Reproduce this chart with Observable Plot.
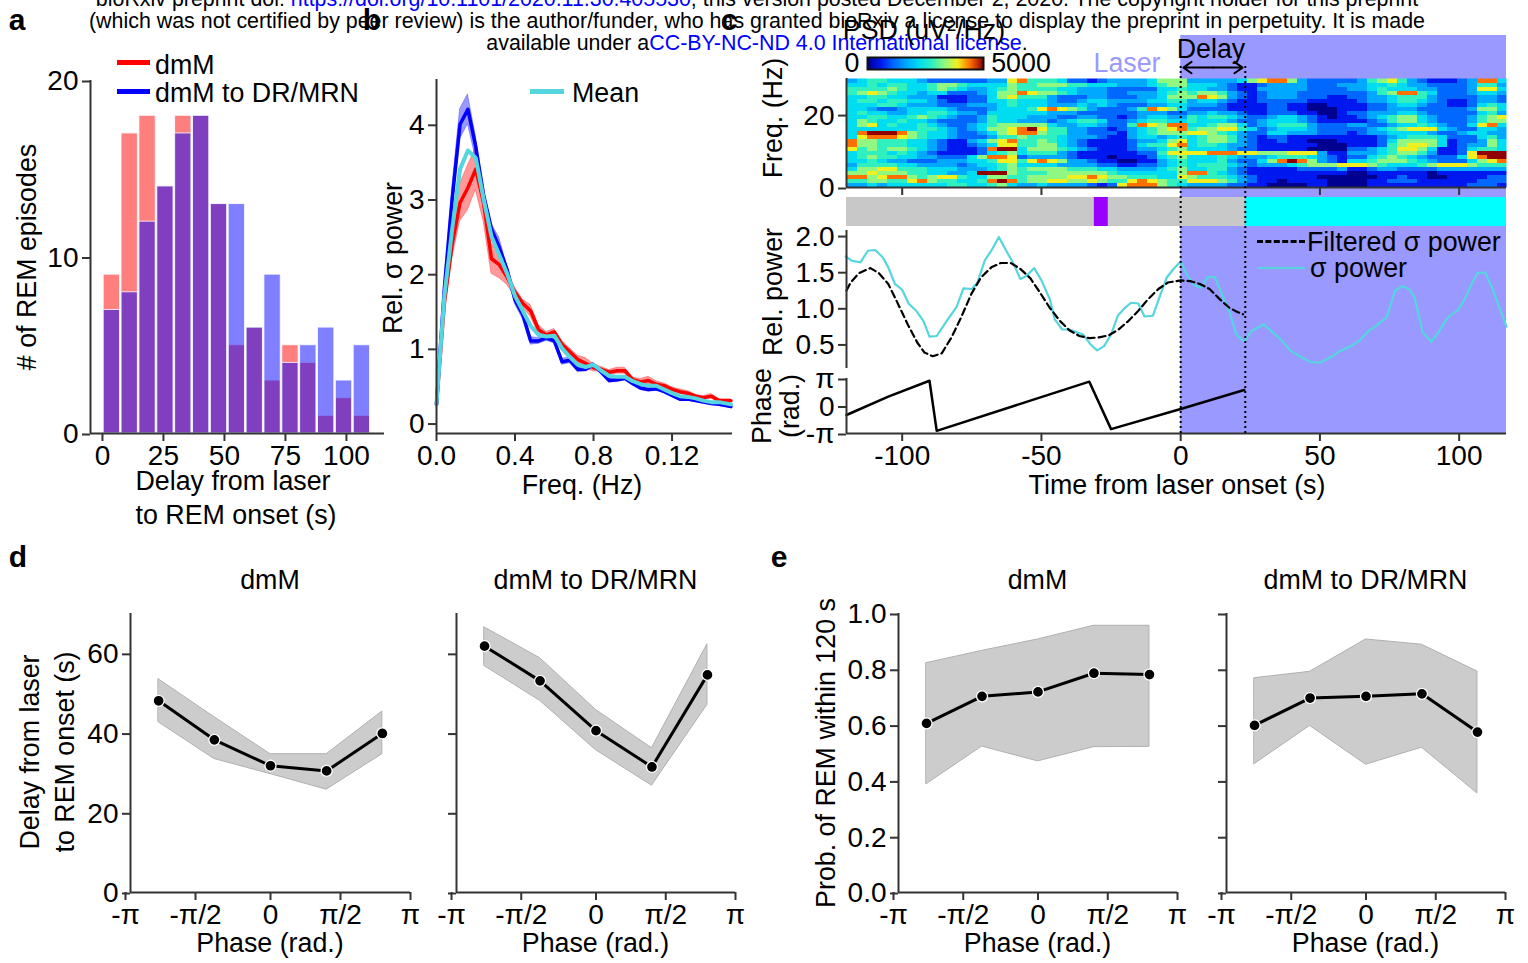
<!DOCTYPE html>
<html><head><meta charset="utf-8">
<script src="https://cdn.jsdelivr.net/npm/d3@7"></script>
<script src="https://cdn.jsdelivr.net/npm/@observablehq/plot@0.6"></script>
<style>
html,body{margin:0;background:#fff;}
#stage{position:relative;width:1528px;height:963px;overflow:hidden;font-family:"Liberation Sans",Arial,sans-serif;color:#000;}
#stage svg{position:absolute;overflow:visible;background:transparent;}
.t{position:absolute;white-space:nowrap;line-height:1;}
.k{position:absolute;}
a{color:#0000ff;text-decoration:none;}
</style></head><body><div id="stage"></div>
<script>
// ---------- panel a ----------
const binLeft=[0.5,7.82,15.14,22.46,29.78,37.1,44.42,51.74,59.06,66.38,73.7,81.02,88.34,95.66,102.98];
const binWidth=6.7;
const countsDmm=[9,17,18,14,18,18,13,5,6,3,5,4,1,2,1];
const countsDr=[7,8,12,14,17,18,13,13,6,9,4,5,6,3,5];
// ---------- panel b ----------
const freq=[0,.04,.08,.12,.16,.2,.24,.28,.32,.36,.4,.44,.48,.52,.56,.6,.64,.68,.72,.76,.8,.84,.88,.92,.96,1,1.04,1.08,1.12,1.16,1.2,1.24,1.28,1.32,1.36,1.4,1.44,1.5];
const specMean=[.25,1.7,2.6,3.4,3.65,3.55,3.0,2.5,2.25,2.0,1.7,1.5,1.3,1.18,1.16,1.17,1.0,.88,.78,.75,.78,.7,.63,.62,.62,.56,.52,.5,.5,.45,.4,.36,.35,.33,.3,.28,.28,.25];
const specDr=[.25,1.8,3.0,4.0,4.2,3.7,3.05,2.6,2.35,2.05,1.65,1.45,1.1,1.1,1.14,1.1,.82,.84,.72,.72,.78,.68,.57,.58,.6,.53,.47,.45,.46,.42,.37,.32,.32,.3,.28,.26,.25,.22];
const specDmm=[.25,1.6,2.4,2.95,3.15,3.4,2.95,2.2,2.12,1.95,1.75,1.6,1.5,1.25,1.18,1.22,1.05,.95,.85,.8,.74,.72,.68,.7,.7,.58,.55,.57,.52,.5,.45,.42,.4,.36,.34,.36,.3,.3];
const semDmm=[.02,.1,.2,.25,.3,.28,.25,.2,.18,.1,.06,.05,.08,.06,.04,.04,.05,.05,.05,.07,.05,.03,.03,.04,.04,.03,.04,.05,.04,.03,.03,.03,.03,.02,.02,.03,.02,.02];
const semDr=[.02,.1,.15,.2,.2,.15,.08,.07,.13,.05,.06,.06,.05,.04,.04,.03,.04,.04,.04,.03,.03,.03,.03,.03,.03,.03,.03,.03,.03,.02,.02,.02,.02,.02,.02,.02,.02,.02];
// ---------- panel c ----------
const psdLevel=555.5; // one digit in the rows below = this many uV^2/Hz
const psdA=["34554443222222337","44545544566544446","55556544565433456","56765443442223466","44554433311122467","45545544321122445","44455433322233345","44322344443222344","45443344554332444","44554456543223544","46544544322223544","46745445432234566","44444445543234667","48999865443223467","47888765443222355","86655544321134678","86655544321123477","75656654321112899","45554543211112456","45655443322246887","44543322233344577","35555443333234456","46677555444333456","66766655443349996","88678865677544665","55665578655445898","33434444445544564"];
const psdB=["85554221233334666","55666554443334566","55554433322222445","87665433322333456","55532223322233466","44432234433334455","44433343432223344","45787653222358764","44433322222233322","43332233221234433","33323455422345544","66643344322587688","89755332212345678","88655332221345666","65554333211344345","55654321111233467","55664321111245578","46665432111233456","45553211111122577","23333211101112456","57876332110011345","44443333221122345","56666555443333456","55566666654444446","56666778766555447","56677667655787655","33433332127888654"];
const psdC=["3333346788632222","4443211233332223","4433211333332222","5665321233322222","6876321233322211","3443211222221111","3332111122110011","2222111122110001","3343321122211001","5455432234432101","5444322344432111","4456642345553222","5667754234443222","7765432244333222","4566532122111111","4566532112110001","4554332111111000","4444322111110000","7788877666777311","4445433345554321","4445322468986321","4555432333456667","4455321111122223","8854321111111111","6555432111111000","7776532110111100","3333221100001100"];
const psdD=["2356753211123884","3344543322223553","3345444332223774","2235688542223443","2233455532222332","1233455432112332","1122344322112454","1122333222223664","2233344322222453","1234566432223567","1123566432223566","3322344543224784","2234567774322443","1233444432234433","1112345554222453","1112466664122364","1112567764123364","2234577641124554","3334566531127999","2245654322247899","4456665432224678","7765444567776555","1123322223333333","0011111101111111","0001121100111122","0011222111111222","0011111111112221"];
const jetStops=["#000090","#0018f0","#0068ff","#00a8ff","#00dcf0","#30f0c0","#90f880","#f0f020","#ff7000","#900000"];

const sigmaT=[-120.3,-118,-115,-112.3,-109.7,-107,-105,-102.6,-100,-97.7,-95,-92.4,-90.2,-87.6,-84,-80.5,-78,-75,-73,-70.3,-68,-65.3,-62.5,-60,-57.6,-55.4,-52.6,-50,-47,-45.2,-42.6,-40,-37.3,-35,-32.5,-30,-27.5,-25,-22.6,-20,-17.8,-15.2,-13,-10,-7.2,-5,-2.5,0,2.5,5,7.4,9.5,12.2,14.8,17.5,20,22.8,25.4,29.8,32.5,36,39.6,42.7,46.6,49.8,54.6,57,60.7,64.3,67.5,70.5,74,77,79.6,82,84,86.9,90,92.5,96,99.6,102,104.5,106.6,109.3,112,117];
const sigmaV=[1.71,1.65,1.63,1.79,1.80,1.70,1.56,1.33,1.25,1.06,.96,.82,.60,.61,.82,1.01,1.27,1.26,1.35,1.66,1.79,1.98,1.78,1.61,1.40,1.44,1.55,1.38,1.12,.84,.70,.70,.66,.63,.50,.41,.47,.63,.89,1.0,1.07,1.06,.88,.89,1.19,1.42,1.54,1.64,1.44,1.31,1.28,1.42,1.43,1.19,.94,.63,.53,.68,.77,.68,.56,.40,.33,.25,.24,.33,.40,.46,.55,.68,.76,.87,1.24,1.30,1.26,1.14,.66,.53,.66,.87,.97,1.12,1.33,1.48,1.49,1.26,.74];
const filtT=[-120,-118.5,-115.5,-111.4,-108.4,-105,-101.7,-98,-94.6,-92,-89,-85.8,-82.3,-78.8,-75.2,-71.7,-68,-64.6,-61,-57.6,-54,-50.5,-47,-43.4,-40,-36.4,-32.8,-29.3,-25.8,-22.3,-18.7,-15.2,-11.7,-8,-4.6,0,3.4,6.9,10.4,14,17.5,20,22.4];
const filtV=[1.24,1.35,1.48,1.55,1.48,1.33,1.07,.77,.52,.38,.33,.37,.59,.87,1.19,1.42,1.56,1.62,1.62,1.54,1.41,1.21,1.0,.82,.69,.61,.58,.59,.62,.70,.82,.96,1.12,1.26,1.35,1.38,1.37,1.33,1.26,1.12,1.0,.95,.91];
const phaseT=[-120,-105,-90.2,-87.6,-32.8,-25,0,22.8];
const phaseV=[-1.03,1.07,2.88,-2.84,2.78,-2.64,-.34,1.83];
const delayEnd=23.2;
const xRangeC=[-120,117];
const stateStrip=[{a:-120,b:23.2,c:"#c8c8c8"},{a:-31,b:-26,c:"#9900ff"},{a:23.2,b:117,c:"#00ffff"}];
// ---------- panels d, e ----------
const phaseBins=[-2.51,-1.26,0,1.26,2.51];
const phaseTicksNeg=[-Math.PI,-Math.PI/2];
const phaseTicksPos=[0,Math.PI/2,Math.PI];
const phaseLabelsNeg=["-π","-π/2"];
const phaseLabelsPos=["0","π/2","π"];
const dDmm={m:[48.1,38.3,31.8,30.5,39.9],u:[53.5,44,34.7,34.7,45.4],l:[42.7,33.5,29.7,25.8,34.7]};
const dDr={m:[61.8,53.1,40.6,31.5,54.6],u:[66.5,58.8,45.8,36.2,62.3],l:[56.8,48.1,35.7,26.8,47.1]};
const eDmm={m:[.606,.703,.719,.786,.781],u:[.822,.866,.907,.956,.956],l:[.388,.523,.470,.521,.522]};
const eDr={m:[.599,.697,.703,.712,.575],u:[.768,.791,.907,.888,.792],l:[.460,.597,.458,.519,.355]};

// ---------- helpers ----------
const stage=document.getElementById("stage");
const FS=26.8, TICK=28, AX="#333", RED="#ff0000", BLUE="#0000ff", CY="#55d5dd";
function txt(s,x,y,o={}){
  const e=document.createElement("div");e.className="t";
  if(o.html)e.innerHTML=s;else e.textContent=s;
  const a=o.anchor==="start"?"0":o.anchor==="end"?"-100%":"-50%";
  e.style.cssText+=`left:${x}px;top:${y}px;font-size:${o.size||FS}px;font-weight:${o.weight||400};color:${o.color||"#000"};transform:translate(${a},-50%) rotate(${o.rotate||0}deg);`;
  stage.appendChild(e);
}
function key(x1,x2,y,color,style="solid",w=5){
  const e=document.createElement("div");e.className="k";
  e.style.cssText=`left:${x1}px;top:${y-Math.ceil(w/2)}px;width:${x2-x1}px;height:0;border-top:${w}px ${style} ${color};`;
  stage.appendChild(e);
}
function panel(f,opts){
  const ml=f.ml??110,mr=f.mr??8,mt=f.mt??20,mb=f.mb??70;
  const p=Plot.plot({width:f.r-f.l+ml+mr,height:f.b-f.t+mt+mb,marginLeft:ml,marginRight:mr,marginTop:mt,marginBottom:mb,
    style:{fontFamily:'"Liberation Sans",Arial,sans-serif',fontSize:TICK+"px",color:"#000",background:"transparent",overflow:"visible",position:"absolute",left:(f.l-ml)+"px",top:(f.t-mt)+"px"},
    ...opts});
  stage.appendChild(p);return p;
}
const axX=(ticks,fmt,o={})=>Plot.axisX({ticks,tickFormat:fmt,tickSize:8,tickPadding:4,stroke:AX,strokeWidth:2,label:null,fontSize:TICK,...o});
const axY=(ticks,fmt,o={})=>Plot.axisY({ticks,tickFormat:fmt,tickSize:8,tickPadding:4,stroke:AX,strokeWidth:2,label:null,fontSize:TICK,textStroke:"none",...o});
const spineL=v=>Plot.ruleX([v],{stroke:AX,strokeWidth:2});
const spineB=v=>Plot.ruleY([v],{stroke:AX,strokeWidth:2});

// ---------- header ----------
txt(`bioRxiv preprint doi: <a>https://doi.org/10.1101/2020.11.30.405530</a>; this version posted December 2, 2020. The copyright holder for this preprint`,757,0,{size:21.4,html:true});
txt(`(which was not certified by peer review) is the author/funder, who has granted bioRxiv a license to display the preprint in perpetuity. It is made`,757,22,{size:21.4});
txt(`available under a<a>CC-BY-NC-ND 4.0 International license</a>.`,757,44,{size:21.4,html:true});

// ---------- a ----------
const tableA=binLeft.map((x,i)=>({x1:x,x2:x+binWidth,r:countsDmm[i],b:countsDr[i]}));
panel({l:90,r:384,t:80,b:433},{
  x:{domain:[-4.9,115.6]},y:{domain:[0,20]},
  marks:[
    Plot.rectY(tableA,{x1:"x1",x2:"x2",y:"r",fill:RED,fillOpacity:.5,stroke:"#fff",strokeWidth:1,strokeOpacity:.8}),
    Plot.rectY(tableA,{x1:"x1",x2:"x2",y:"b",fill:BLUE,fillOpacity:.5,stroke:"#fff",strokeWidth:1,strokeOpacity:.8}),
    spineL(-4.9),spineB(0),
    axX([0,25,50,75,100],d=>String(d)),axY([0,10,20],d=>String(d),{dy:1})
  ]});
txt("# of REM episodes",27,257,{rotate:-90});
txt("Delay from laser",233,481);txt("to REM onset (s)",236,515);
key(117,150,63,RED);key(117,150,92,BLUE);
txt("dmM",155,65,{anchor:"start"});txt("dmM to DR/MRN",155,93,{anchor:"start"});
txt("a",17,20,{size:30,weight:700});

// ---------- b ----------
const tableB=freq.map((f,i)=>({f,mean:specMean[i],dr:specDr[i],dmm:specDmm[i],r1:specDmm[i]-semDmm[i],r2:specDmm[i]+semDmm[i],b1:specDr[i]-semDr[i],b2:specDr[i]+semDr[i]}));
panel({l:436,r:732,t:79,b:433,ml:60},{
  x:{domain:[0,1.508]},y:{domain:[-.14,4.6]},
  marks:[
    Plot.areaY(tableB,{x:"f",y1:"r1",y2:"r2",fill:RED,fillOpacity:.4,stroke:RED,strokeOpacity:.3}),
    Plot.areaY(tableB,{x:"f",y1:"b1",y2:"b2",fill:BLUE,fillOpacity:.4,stroke:BLUE,strokeOpacity:.3}),
    Plot.line(tableB,{x:"f",y:"dmm",stroke:RED,strokeWidth:3.5}),
    Plot.line(tableB,{x:"f",y:"dr",stroke:BLUE,strokeWidth:3.5}),
    Plot.line(tableB,{x:"f",y:"mean",stroke:CY,strokeWidth:4}),
    spineL(0),spineB(-.14),
    axX([0,.4,.8,1.2],(d,i)=>["0.0","0.4","0.8","0.12"][i]),axY([0,1,2,3,4],d=>String(d),{dy:1})
  ]});
txt("Rel. σ power",393,258,{rotate:-90});txt("Freq. (Hz)",582,485);
key(530,564,92,CY);txt("Mean",572,93,{anchor:"start"});
txt("b",372,20,{size:30,weight:700});

// ---------- c ----------
const xC={domain:xRangeC};
const xCquiet={domain:xRangeC,axis:null};
// laser background
panel({l:846,r:1506,t:35,b:433,mb:10,ml:10},{x:xCquiet,y:{domain:[0,1],axis:null},marks:[
  Plot.rect([{a:0,b:117}],{x1:"a",x2:"b",y1:0,y2:1,fill:"#9999ff"})
]});
// spectrogram
const nCols=psdA[0].length+psdB[0].length+psdC[0].length+psdD[0].length;
const psdValues=psdA.flatMap((r,i)=>(r+psdB[i]+psdC[i]+psdD[i]).split("").map(c=>+c*psdLevel));
const jet=d3.piecewise(d3.interpolateRgb,jetStops);
panel({l:846,r:1506,t:78,b:187,mb:20},{x:xC,y:{domain:[0,29.9]},
  color:{type:"linear",domain:[0,5000],interpolate:jet},
  marks:[
    Plot.raster(psdValues,{width:nCols,height:psdA.length,x1:xRangeC[0],x2:xRangeC[1],y1:29.9,y2:0,fill:d=>d,imageRendering:"pixelated"}),
    spineL(-120),spineB(0),
    axX([-100,-50,50,100],()=>""),axY([0,20],d=>String(d),{dy:1})
  ]});
txt("Freq. (Hz)",773,118,{rotate:-90});
// colour bar
const barValues=d3.range(116).map(i=>i*5000/115);
panel({l:867,r:983,t:57,b:69,mb:2,mt:2,ml:2,mr:2},{x:{domain:[0,5000],axis:null},y:{domain:[0,1],axis:null},
  color:{type:"linear",domain:[0,5000],interpolate:jet},
  marks:[Plot.raster(barValues,{width:116,height:1,x1:0,x2:5000,y1:0,y2:1,fill:d=>d}),Plot.frame({stroke:"#111",strokeWidth:2})]});
txt("0",852,63);txt("5000",1021,63);
txt("PSD (uV²/Hz)",924,30);
txt("Laser",1127,63,{color:"#9999ff"});
txt("Delay",1211,49);
// state strip
panel({l:846,r:1506,t:197,b:226,mb:2,mt:2,ml:2},{x:xCquiet,y:{domain:[0,1],axis:null},marks:[
  Plot.rect(stateStrip,{x1:"a",x2:"b",y1:0,y2:1,fill:"c"})
]});
// relative power
const tableS=sigmaT.map((t,i)=>({t,v:sigmaV[i]}));
const tableF=filtT.map((t,i)=>({t,v:filtV[i]}));
panel({l:846,r:1506,t:230,b:368,mb:2},{x:xCquiet,y:{domain:[.16,2.07]},marks:[
  Plot.line(tableS,{x:"t",y:"v",stroke:CY,strokeWidth:2.2}),
  Plot.line(tableF,{x:"t",y:"v",stroke:"#000",strokeWidth:2.2,strokeDasharray:"7,4"}),
  spineL(-120),
  axY([.5,1,1.5,2],d=>d.toFixed(1),{dy:1})
]});
txt("Rel. power",773,292,{rotate:-90});
key(1257,1305,242,"#000","dashed",3);key(1257,1305,268,CY,"solid",2);
txt("Filtered σ power",1307,242,{anchor:"start"});txt("σ power",1310,268,{anchor:"start"});
// phase
const tableP=phaseT.map((t,i)=>({t,v:phaseV[i]}));
panel({l:846,r:1506,t:378,b:433},{x:xC,y:{domain:[-Math.PI,Math.PI]},marks:[
  Plot.line(tableP,{x:"t",y:"v",stroke:"#000",strokeWidth:2.5}),
  spineL(-120),spineB(-Math.PI),
  axX([-100,-50,0,50,100],d=>String(d)),
  axY([-Math.PI,0,Math.PI],(d,i)=>["-π","0","π"][i],{dy:1})
]});
txt("Phase",762,406,{rotate:-90});txt("(rad.)",790,406,{rotate:-90});
txt("Time from laser onset (s)",1177,485);
// dotted delay markers and arrow
panel({l:846,r:1506,t:63,b:433,mb:10,ml:10},{x:xCquiet,y:{domain:[0,1],axis:null},marks:[
  Plot.ruleX([0,delayEnd],{y1:0,y2:1,stroke:"#000",strokeWidth:2,strokeDasharray:"2,3"}),
  Plot.arrow([{a:delayEnd/2,b:1},{a:delayEnd/2,b:delayEnd-1}],{x1:"a",x2:"b",y1:.989,y2:.989,stroke:"#000",strokeWidth:2,bend:0,headLength:9,headAngle:70})
]});
txt("c",729,20,{size:30,weight:700});

// ---------- d, e ----------
function phasePanel(l,r,series,yDom,yTicks,yFmt,title){
  const tab=phaseBins.map((x,i)=>({x,m:series.m[i],u:series.u[i],lo:series.l[i]}));
  panel({l,r,t:613,b:892,mr:4},{x:{domain:[-Math.PI,Math.PI]},y:{domain:yDom},marks:[
    Plot.areaY(tab,{x:"x",y1:"lo",y2:"u",fill:"#cccccc",stroke:"#b0b0b0",strokeWidth:1}),
    Plot.line(tab,{x:"x",y:"m",stroke:"#000",strokeWidth:3}),
    Plot.dot(tab,{x:"x",y:"m",r:5.5,fill:"#000",stroke:"#fff",strokeWidth:1.3}),
    spineL(-Math.PI),spineB(yDom[0]),
    axX(phaseTicksNeg,(d,i)=>phaseLabelsNeg[i],{dx:-5}),
    axX(phaseTicksPos,(d,i)=>phaseLabelsPos[i]),
    axY(yTicks,yFmt,{dy:1})
  ]});
  txt(title,(l+r)/2,580);txt("Phase (rad.)",(l+r)/2,943);
}
phasePanel(130,410,dDmm,[0,70],[0,20,40,60],d=>String(d),"dmM");
phasePanel(456,735,dDr,[0,70],[0,20,40,60],()=>"","dmM to DR/MRN");
phasePanel(898,1177,eDmm,[0,1],[0,.2,.4,.6,.8,1],d=>d.toFixed(1),"dmM");
phasePanel(1226,1505,eDr,[0,1],[0,.2,.4,.6,.8,1],()=>"","dmM to DR/MRN");
txt("Delay from laser",30,752,{rotate:-90});txt("to REM onset (s)",65,752,{rotate:-90});
txt("Prob. of REM within 120 s",826,753,{rotate:-90});
txt("d",18,557,{size:30,weight:700});txt("e",779,557,{size:30,weight:700});
</script></body></html>
